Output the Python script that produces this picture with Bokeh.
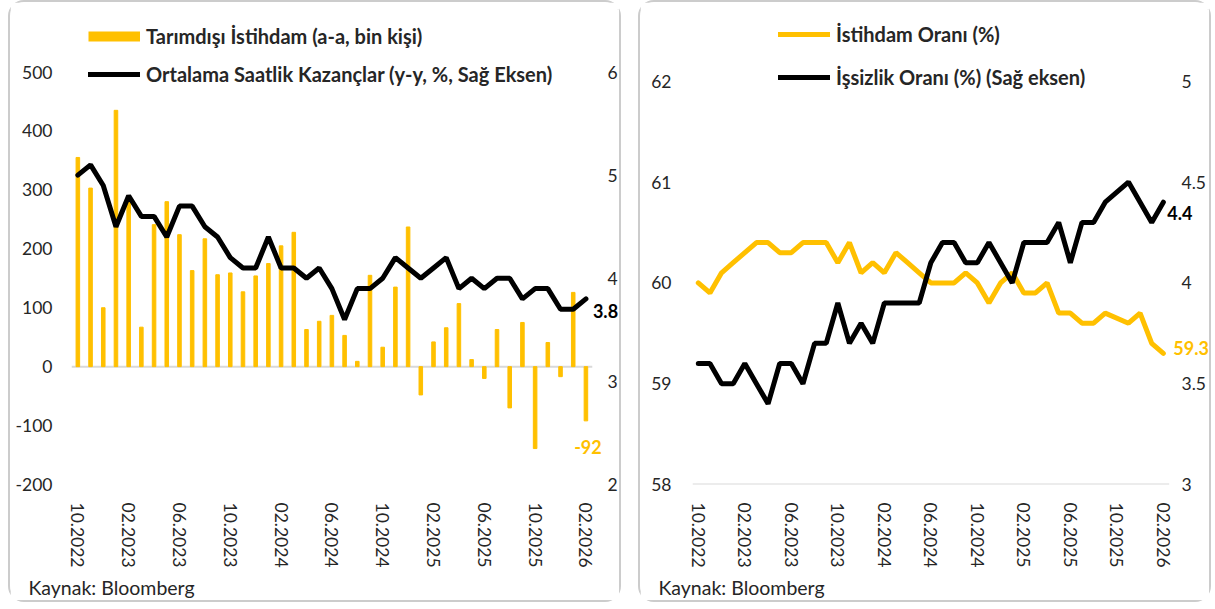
from bokeh.plotting import figure
from bokeh.models import (Range1d, LinearAxis, FixedTicker, Label, Legend, LegendItem, Title,
                          CustomJSTickFormatter, Spacer)
from bokeh.layouts import row
from bokeh.embed import file_html
from bokeh.resources import INLINE

# ---------------- data ----------------
months = ["10.2022", "11.2022", "12.2022", "01.2023", "02.2023", "03.2023", "04.2023", "05.2023",
          "06.2023", "07.2023", "08.2023", "09.2023", "10.2023", "11.2023", "12.2023", "01.2024",
          "02.2024", "03.2024", "04.2024", "05.2024", "06.2024", "07.2024", "08.2024", "09.2024",
          "10.2024", "11.2024", "12.2024", "01.2025", "02.2025", "03.2025", "04.2025", "05.2025",
          "06.2025", "07.2025", "08.2025", "09.2025", "10.2025", "11.2025", "12.2025", "01.2026",
          "02.2026"]
tick_labels = ["10.2022", "02.2023", "06.2023", "10.2023", "02.2024", "06.2024", "10.2024",
               "02.2025", "06.2025", "10.2025", "02.2026"]

# Tarımdışı İstihdam (a-a, bin kişi)
nonfarm = [355, 303, 100, 435, 280, 67, 241, 280, 224, 163, 217, 156, 159, 127, 154, 175, 205,
           228, 63, 77, 87, 53, 9, 155, 33, 135, 237, -48, 42, 66, 107, 12, -20, 63, -70, 75,
           -139, 41, -17, 126, -92]
# Ortalama Saatlik Kazançlar (y-y, %)
earnings = [5.0, 5.1, 4.9, 4.5, 4.8, 4.6, 4.6, 4.4, 4.7, 4.7, 4.5, 4.4, 4.2, 4.1, 4.1, 4.4, 4.1,
            4.1, 4.0, 4.1, 3.9, 3.6, 3.9, 3.9, 4.0, 4.2, 4.1, 4.0, 4.1, 4.2, 3.9, 4.0, 3.9, 4.0,
            4.0, 3.8, 3.9, 3.9, 3.7, 3.7, 3.8]
# İstihdam Oranı (%)
emp_rate = [60.0, 59.9, 60.1, 60.2, 60.3, 60.4, 60.4, 60.3, 60.3, 60.4, 60.4, 60.4, 60.2, 60.4,
            60.1, 60.2, 60.1, 60.3, 60.2, 60.1, 60.0, 60.0, 60.0, 60.1, 60.0, 59.8, 60.0, 60.1,
            59.9, 59.9, 60.0, 59.7, 59.7, 59.6, 59.6, 59.7, None, 59.6, 59.7, 59.4, 59.3]
# İşsizlik Oranı (%)
unemp = [3.6, 3.6, 3.5, 3.5, 3.6, 3.5, 3.4, 3.6, 3.6, 3.5, 3.7, 3.7, 3.9, 3.7, 3.8, 3.7, 3.9,
         3.9, 3.9, 3.9, 4.1, 4.2, 4.2, 4.1, 4.1, 4.2, 4.1, 4.0, 4.2, 4.2, 4.2, 4.3, 4.1, 4.3,
         4.3, 4.4, None, 4.5, 4.4, 4.3, 4.4]

left_ticks = [-200, -100, 0, 100, 200, 300, 400, 500]
right_ticks = [2, 3, 4, 5, 6]
left_ticks2 = [58, 59, 60, 61, 62]
right_ticks2 = [3, 3.5, 4, 4.5, 5]

# ---------------- style ----------------
YELLOW = "#FFC000"
TXT = "#262626"
FONT = "Lato"
TICK_FS = "17.5px"
LEG_FS = "20px"
VAL_FS = "18px"
SRC_FS = "19.5px"
H = 598
N = len(months)

xs = list(range(N))
tick_pos = [months.index(t) for t in tick_labels]
overrides = {p: t for p, t in zip(tick_pos, tick_labels)}
plain = CustomJSTickFormatter(code="return String(tick)")


def style_axis(ax, standoff):
    ax.axis_line_color = None
    ax.major_tick_line_color = None
    ax.minor_tick_line_color = None
    ax.major_tick_out = 0
    ax.major_tick_in = 0
    ax.minor_tick_out = 0
    ax.minor_tick_in = 0
    ax.major_label_text_font = FONT
    ax.major_label_text_font_size = TICK_FS
    ax.major_label_text_color = TXT
    ax.major_label_standoff = standoff


def extend(lo, hi, px_span, px_frame):
    # 'lo' at the frame bottom, 'hi' px_span px above it; frame is px_frame px tall
    return Range1d(lo, lo + (hi - lo) * px_frame / px_span)


def base_fig(width, x_end, y_range, mbl, mbr, mbt, mbb):
    p = figure(width=width, height=H, x_range=Range1d(-0.5, x_end), y_range=y_range,
               output_backend="svg", toolbar_location=None,
               min_border_left=mbl, min_border_right=mbr, min_border_top=mbt, min_border_bottom=mbb)
    p.xgrid.visible = False
    p.ygrid.visible = False
    p.outline_line_color = None
    p.background_fill_color = "white"
    p.border_fill_color = "white"
    p.styles = {"border": "2px solid #cccccc", "border-radius": "16px",
                "box-sizing": "content-box"}
    return p


def legend(items, loc, spacing):
    return Legend(items=items, location=loc, glyph_width=52, glyph_height=24, label_standoff=6,
                  spacing=spacing, padding=0, margin=0, label_height=24,
                  border_line_alpha=0, background_fill_alpha=0,
                  label_text_font=FONT, label_text_font_style="bold",
                  label_text_font_size=LEG_FS, label_text_color=TXT)


# ---------------- left chart ----------------
# frame: x 71..619 (41 months over 517 px), y 12..483 (700 units over 409 px)
p1 = base_fig(609, -0.5 + N * 548 / 517, extend(-200, 500, 409, 471), 61, 0, 7, 120)
p1.extra_y_ranges = {"right": extend(2, 6, 409, 471)}
p1.yaxis.ticker = FixedTicker(ticks=left_ticks)
p1.yaxis.formatter = plain
style_axis(p1.yaxis[0], 19)
ax_r = LinearAxis(y_range_name="right", ticker=FixedTicker(ticks=right_ticks), formatter=plain)
style_axis(ax_r, -16)
p1.add_layout(ax_r, "right")
p1.xaxis.ticker = FixedTicker(ticks=tick_pos)
p1.xaxis.major_label_overrides = overrides
p1.xaxis.major_label_orientation = "vertical"
style_axis(p1.xaxis[0], 18)

p1.segment(x0=xs[0] - 0.5, x1=xs[-1] + 0.5, y0=0, y1=0, line_color="#d9d9d9", line_width=2)
bars = p1.vbar(x=xs, top=nonfarm, width=0.28, color=YELLOW)
l1 = p1.line(xs, earnings, y_range_name="right", line_color="black", line_width=5,
             line_cap="round")
# legend key for the bars: a thick yellow stroke (no visible point in the plot)
bar_key = p1.line(x=[xs[0]], y=[float("nan")], line_color=YELLOW, line_width=10)

p1.add_layout(legend([LegendItem(label="Tarımdışı İstihdam (a-a, bin kişi)", renderers=[bar_key]),
                      LegendItem(label="Ortalama Saatlik Kazançlar (y-y, %, Sağ Eksen)",
                                 renderers=[l1])], (17, 398), 14))

p1.add_layout(Label(x=xs[-1], y=earnings[-1], y_range_name="right", text=f"{earnings[-1]:.1f}",
                    x_offset=7, y_offset=-12, text_baseline="middle", text_align="left",
                    text_font=FONT, text_font_style="bold", text_font_size=VAL_FS,
                    text_color="black"))
p1.add_layout(Label(x=xs[-1], y=nonfarm[-1], text=f"{nonfarm[-1]}",
                    x_offset=2, y_offset=-26, text_baseline="middle", text_align="center",
                    text_font=FONT, text_font_style="bold", text_font_size=VAL_FS,
                    text_color=YELLOW))
p1.add_layout(Title(text="Kaynak: Bloomberg", align="left", offset=-43, standoff=7,
                    text_font=FONT, text_font_style="normal", text_font_size=SRC_FS,
                    text_color=TXT), "below")

# ---------------- right chart ----------------
# frame: x 692..1209 (41 months over 473 px), y 12..484 (4 units over 400.7 px)
p2 = base_fig(569, -0.5 + N * 517 / 473, extend(58, 62, 400.7, 472), 52, 0, 7, 119)
p2.extra_y_ranges = {"right": extend(3, 5, 400.7, 472)}
p2.yaxis.ticker = FixedTicker(ticks=left_ticks2)
p2.yaxis.formatter = plain
style_axis(p2.yaxis[0], 21)
ax_r2 = LinearAxis(y_range_name="right", ticker=FixedTicker(ticks=right_ticks2), formatter=plain)
style_axis(ax_r2, -32)
p2.add_layout(ax_r2, "right")
p2.xaxis.ticker = FixedTicker(ticks=tick_pos)
p2.xaxis.major_label_overrides = overrides
p2.xaxis.major_label_orientation = "vertical"
style_axis(p2.xaxis[0], 18)
p2.segment(x0=xs[0] - 0.5, x1=xs[-1] + 0.5, y0=left_ticks2[0], y1=left_ticks2[0],
           line_color="#d9d9d9", line_width=2)

xe = [x for x, v in zip(xs, emp_rate) if v is not None]
ye = [v for v in emp_rate if v is not None]
xu = [x for x, v in zip(xs, unemp) if v is not None]
yu = [v for v in unemp if v is not None]
l_emp = p2.line(xe, ye, line_color=YELLOW, line_width=5, line_cap="round")
l_un = p2.line(xu, yu, y_range_name="right", line_color="black", line_width=5, line_cap="round")

p2.add_layout(legend([LegendItem(label="İstihdam Oranı (%)", renderers=[l_emp]),
                      LegendItem(label="İşsizlik Oranı (%) (Sağ eksen)", renderers=[l_un])],
                     (86, 395), 19))

p2.add_layout(Label(x=xu[-1], y=yu[-1], y_range_name="right", text=f"{yu[-1]:.1f}",
                    x_offset=4, y_offset=-11, text_baseline="middle", text_align="left",
                    text_font=FONT, text_font_style="bold", text_font_size=VAL_FS,
                    text_color="black"))
p2.add_layout(Label(x=xe[-1], y=ye[-1], text=f"{ye[-1]:.1f}",
                    x_offset=10, y_offset=5, text_baseline="middle", text_align="left",
                    text_font=FONT, text_font_style="bold", text_font_size=VAL_FS,
                    text_color=YELLOW))
p2.add_layout(Title(text="Kaynak: Bloomberg", align="left", offset=-34, standoff=7,
                    text_font=FONT, text_font_style="normal", text_font_size=SRC_FS,
                    text_color=TXT), "below")

layout = row(Spacer(width=8), p1, Spacer(width=17), p2)
open("out.html", "w").write(file_html(layout, INLINE))
